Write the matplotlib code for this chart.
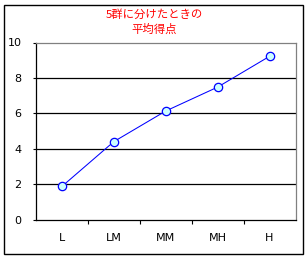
import matplotlib.pyplot as plt
from matplotlib.patches import Rectangle

groups = ['L', 'LM', 'MM', 'MH', 'H']
scores = [1.87, 4.40, 6.13, 7.48, 9.22]
yticks = [0, 2, 4, 6, 8, 10]
title = '5群に分けたときの\n平均得点'

W, H = 308, 259
fig = plt.figure(figsize=(W / 100, H / 100), dpi=100)

# outer chart frame
fig.patches.append(Rectangle((4 / W, 5 / H), 299 / W, 249 / H, transform=fig.transFigure,
                             fill=False, edgecolor='black', linewidth=1.0))

ax = fig.add_axes([36 / W, (H - 219.5) / H, 259.5 / W, 177 / H])
x = range(len(groups))
ax.plot(x, scores, color='#0000ff', linewidth=0.75, marker='o', markersize=6,
        markerfacecolor='#ccffff', markeredgecolor='#0000ff', markeredgewidth=0.9, zorder=3)

ax.set_xlim(-0.5, len(groups) - 0.5)
ax.set_ylim(0, 10)
ax.set_yticks(yticks)
ax.set_yticklabels([str(v) for v in yticks], fontsize=8, family='DejaVu Sans')
for v in yticks[1:-1]:
    ax.axhline(v, color='black', linewidth=0.9, zorder=1)

ax.set_xticks(x)
ax.set_xticklabels(groups, fontsize=8, family='DejaVu Sans')
ax.set_xticks([i + 0.5 for i in range(len(groups) - 1)], minor=True)
ax.tick_params(axis='x', which='major', length=0, pad=10)
ax.tick_params(axis='x', which='minor', length=3, width=0.8, direction='out')
ax.tick_params(axis='y', length=2.5, width=0.8, direction='out', pad=8)

for s in ('top', 'right'):
    ax.spines[s].set_color('#808080')
for s in ('left', 'bottom'):
    ax.spines[s].set_color('black')
for s in ax.spines.values():
    s.set_linewidth(0.9)

fig.text(154 / W, 1 - 22 / H, title, color='red', fontsize=8.2, ha='center', va='center',
         family=['Noto Sans CJK JP', 'DejaVu Sans'], linespacing=1.45)

fig.savefig('out.png', dpi=100)
